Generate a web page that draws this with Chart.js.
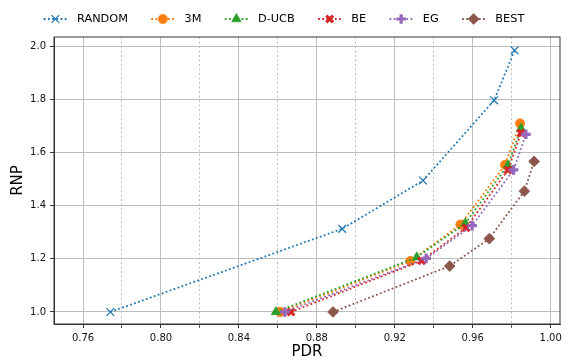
<!DOCTYPE html>
<html>
<head>
<meta charset="utf-8">
<script src="https://cdn.jsdelivr.net/npm/chart.js@4.4.1/dist/chart.umd.min.js"></script>
<style>
  html, body { margin: 0; padding: 0; background: #fff; }
  #wrap { width: 568px; height: 360px; }
</style>
</head>
<body>
<div id="wrap"><canvas id="chart" width="568" height="360"></canvas></div>
<script>
// Series (PDR on x, RNP on y)
const SERIES = ['RANDOM', '3M', 'D-UCB', 'BE', 'EG', 'BEST'];

const PDR_RANDOM = [0.774, 0.8930, 0.9345, 0.9710, 0.9815];
const RNP_RANDOM = [1.000, 1.313, 1.495, 1.797, 1.985];

const PDR_3M = [0.8612, 0.9280, 0.9537, 0.9766, 0.9843];
const RNP_3M = [1.000, 1.192, 1.329, 1.554, 1.710];

const PDR_DUCB = [0.8590, 0.9313, 0.9562, 0.9780, 0.9848];
const RNP_DUCB = [1.000, 1.206, 1.334, 1.552, 1.691];

const PDR_BE = [0.8667, 0.9338, 0.9566, 0.9781, 0.9848];
const RNP_BE = [1.000, 1.193, 1.317, 1.535, 1.674];

const PDR_EG = [0.8636, 0.9361, 0.9597, 0.9810, 0.9873];
const RNP_EG = [1.000, 1.202, 1.325, 1.535, 1.669];

const PDR_BEST = [0.8883, 0.9482, 0.9685, 0.9865, 0.9915];
const RNP_BEST = [1.000, 1.173, 1.276, 1.455, 1.567];

const X_MAJOR = [0.76, 0.80, 0.84, 0.88, 0.92, 0.96, 1.00];
const X_MINOR = [0.78, 0.82, 0.86, 0.90, 0.94, 0.98];
const Y_TICKS = [1.0, 1.2, 1.4, 1.6, 1.8, 2.0];

const PDR_ALL = [PDR_RANDOM, PDR_3M, PDR_DUCB, PDR_BE, PDR_EG, PDR_BEST];
const RNP_ALL = [RNP_RANDOM, RNP_3M, RNP_DUCB, RNP_BE, RNP_EG, RNP_BEST];

// matplotlib tab10 + marker look
const COLORS = ['#1f77b4', '#ff7f0e', '#2ca02c', '#d62728', '#9467bd', '#8c564b'];
const MARKERS = [
  { style: 'crossRot', r: 5.5, bw: 1.2, fill: false },
  { style: 'circle',   r: 4.6, bw: 0.8, fill: true },
  { style: 'triangle', r: 5.4, bw: 0.8, fill: true },
  { style: 'crossRot', r: 4.8, bw: 3.2, fill: true },
  { style: 'cross',    r: 4.8, bw: 3.2, fill: true },
  { style: 'rectRot',  r: 5.4, bw: 0.8, fill: true }
];

const FONT = "'DejaVu Sans', sans-serif";
const isMinorX = v => X_MINOR.some(m => Math.abs(m - v) < 1e-6);

const datasets = SERIES.map((name, i) => ({
  label: name,
  data: PDR_ALL[i].map((x, j) => ({ x: x, y: RNP_ALL[i][j] })),
  showLine: true,
  borderColor: COLORS[i],
  borderWidth: 1.8,
  borderDash: [1.8, 2.4],
  pointStyle: MARKERS[i].style,
  pointRadius: MARKERS[i].r,
  pointHoverRadius: MARKERS[i].r,
  pointBorderWidth: MARKERS[i].bw,
  pointBorderColor: COLORS[i],
  pointBackgroundColor: MARKERS[i].fill ? COLORS[i] : 'transparent',
  order: SERIES.length - i
}));

// full box around the axes, like matplotlib spines
const frame = {
  id: 'frame',
  afterDatasetsDraw(chart) {
    const a = chart.chartArea, ctx = chart.ctx;
    ctx.save();
    ctx.strokeStyle = '#333';
    ctx.lineWidth = 1;
    ctx.strokeRect(a.left, a.top, a.right - a.left, a.bottom - a.top);
    ctx.restore();
  }
};

// legend row: dotted line segment with the marker in its middle
const lineLegend = {
  id: 'lineLegend',
  afterDraw(chart) {
    const ctx = chart.ctx;
    const LINE = 23.3, GAP_TXT = 10, GAP_ITEM = 23.3, y = 19;
    ctx.save();
    ctx.font = '11.3px ' + FONT;
    const items = chart.data.datasets.map(ds => ({ ds, w: ctx.measureText(ds.label).width }));
    const total = items.reduce((s, it) => s + LINE + GAP_TXT + it.w, 0) + GAP_ITEM * (items.length - 1);
    let x = (chart.width - total) / 2;
    items.forEach(({ ds, w }) => {
      ctx.strokeStyle = ds.borderColor;
      ctx.lineWidth = ds.borderWidth;
      ctx.setLineDash(ds.borderDash);
      ctx.beginPath();
      ctx.moveTo(x, y);
      ctx.lineTo(x + LINE, y);
      ctx.stroke();
      ctx.setLineDash([]);
      ctx.fillStyle = ds.pointBackgroundColor;
      ctx.strokeStyle = ds.pointBorderColor;
      ctx.lineWidth = ds.pointBorderWidth;
      Chart.helpers.drawPoint(ctx, {
        pointStyle: ds.pointStyle, radius: ds.pointRadius, rotation: 0, borderWidth: ds.pointBorderWidth
      }, x + LINE / 2, y);
      ctx.fillStyle = '#000';
      ctx.textBaseline = 'middle';
      ctx.textAlign = 'left';
      ctx.fillText(ds.label, x + LINE + GAP_TXT, y);
      x += LINE + GAP_TXT + w + GAP_ITEM;
    });
    ctx.restore();
  }
};

new Chart(document.getElementById('chart'), {
  type: 'scatter',
  data: { datasets: datasets },
  plugins: [frame, lineLegend],
  options: {
    responsive: false,
    devicePixelRatio: 1,
    animation: false,
    layout: { padding: { top: 37, right: 7, left: 0, bottom: 0 } },
    plugins: { legend: { display: false }, tooltip: { enabled: false } },
    scales: {
      x: {
        type: 'linear',
        min: 0.7451,
        max: 1.0048,
        afterBuildTicks: s => { s.ticks = X_MAJOR.concat(X_MINOR).sort((a, b) => a - b).map(v => ({ value: v })); },
        afterFit: s => { s.height = 36; },
        ticks: {
          autoSkip: false,
          maxRotation: 0,
          padding: 4,
          color: '#111',
          font: { family: FONT, size: 10 },
          callback: v => isMinorX(v) ? '' : v.toFixed(2)
        },
        grid: {
          color: c => (c.tick && isMinorX(c.tick.value)) ? '#b0b0b0' : '#bdbdbd',
          lineWidth: c => (c.tick && isMinorX(c.tick.value)) ? 0.8 : 1,
          tickColor: '#333',
          tickLength: 4
        },
        border: {
          display: true, color: '#333', width: 1,
          dash: c => (c.tick && isMinorX(c.tick.value)) ? [2, 2.5] : []
        },
        title: {
          display: true, text: 'PDR', color: '#000',
          font: { family: FONT, size: 15, lineHeight: 1 },
          padding: { top: 0, bottom: 0 }
        }
      },
      y: {
        type: 'linear',
        min: 0.9547,
        max: 2.0355,
        afterBuildTicks: s => { s.ticks = Y_TICKS.map(v => ({ value: v })); },
        afterFit: s => { s.width = 54; },
        ticks: {
          autoSkip: false,
          padding: 4,
          color: '#111',
          font: { family: FONT, size: 10 },
          callback: v => v.toFixed(1)
        },
        grid: { color: '#bdbdbd', lineWidth: 1, tickColor: '#333', tickLength: 4 },
        border: { display: true, color: '#333', width: 1 },
        title: {
          display: true, text: 'RNP', color: '#000',
          font: { family: FONT, size: 15, lineHeight: 1 },
          padding: { top: 10.5, bottom: 0 }
        }
      }
    }
  }
});
</script>
</body>
</html>
